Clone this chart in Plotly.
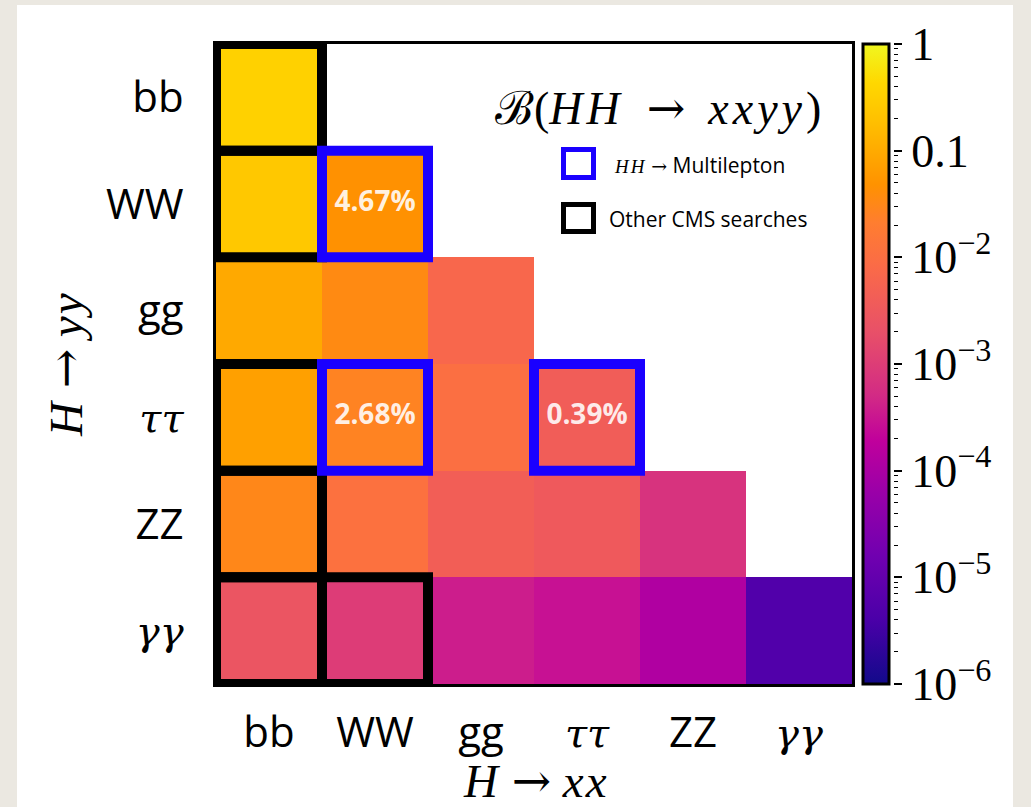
import numpy as np
import plotly.graph_objects as go

# Higgs decay channels, ordered the same way on both axes
channels = ["bb", "WW", "gg", "ττ", "ZZ", "γγ"]

# B(HH -> xx yy): one list per H -> yy row, entries follow the H -> xx columns
br_bb = [0.34]
br_ww = [0.25, 0.0467]
br_gg = [0.095, 0.035, 0.0067]
br_tautau = [0.073, 0.0268, 0.0103, 0.0039]
br_zz = [0.031, 0.0114, 0.0043, 0.0033, 0.0007]
br_gamgam = [0.0026, 0.00098, 0.00037, 0.00028, 0.00012, 0.0000052]

# (xx, yy) cells covered by the multilepton analysis and by other CMS searches
multilepton_cells = [("WW", "WW"), ("WW", "ττ"), ("ττ", "ττ")]
other_cells = [("bb", "bb"), ("bb", "WW"), ("bb", "ττ"), ("bb", "ZZ"),
               ("bb", "γγ"), ("WW", "γγ")]

# colour-bar ticks
cbar_tickvals = [1e-6, 1e-5, 1e-4, 1e-3, 1e-2, 1e-1, 1]
cbar_ticktext = ["10<sup>−6</sup>", "10<sup>−5</sup>", "10<sup>−4</sup>",
                 "10<sup>−3</sup>", "10<sup>−2</sup>", "0.1", "1"]

# vivid plasma-like colour map
colorscale = [
    [0.00, "#120a8a"], [0.10, "#4a00a8"], [0.20, "#7000b0"],
    [0.30, "#9a00a8"], [0.38, "#c0009c"], [0.45, "#d22a85"],
    [0.55, "#e85068"], [0.65, "#fa6a48"], [0.72, "#ff7d30"],
    [0.78, "#ff9200"], [0.88, "#ffc000"], [0.94, "#ffd800"],
    [1.00, "#f0f720"],
]

SERIF = "Liberation Serif"
GREEK = "DejaVu Serif"
SANS = "Open Sans"
ARROW = '<span style="font-family:DejaVu Serif">→</span>'


def math(s, spacing=2):
    return f'<span style="letter-spacing:{spacing}px"><i>{s}</i></span>'


rows = [br_bb, br_ww, br_gg, br_tautau, br_zz, br_gamgam]
n = len(channels)
br = [row + [None] * (n - len(row)) for row in rows]
z = [[np.log10(v) if v is not None else None for v in row] for row in br]

idx = {c: i for i, c in enumerate(channels)}


def label(c):
    if c in ("ττ", "γγ"):
        return f'<span style="font-family:{GREEK};font-size:40px"><i>{c}</i></span>'
    return c


ticktext = [label(c) for c in channels]

fig = go.Figure()
fig.add_trace(go.Heatmap(
    z=z, x=list(range(n)), y=list(range(n)),
    colorscale=colorscale, zmin=-6, zmax=0,
    colorbar=dict(
        x=(863 - 216) / 797, xanchor="left", xpad=0,
        y=0.5, yanchor="middle", len=1, lenmode="fraction", ypad=0,
        thickness=26, outlinewidth=3, outlinecolor="black",
        ticks="", showticklabels=False,
    ),
    hoverongaps=False,
))

# percentage labels on the multilepton cells
ml_x = [idx[xx] for xx, yy in multilepton_cells]
ml_y = [idx[yy] for xx, yy in multilepton_cells]
ml_text = [f"<b>{br[idx[yy]][idx[xx]] * 100:.2f}%</b>" for xx, yy in multilepton_cells]
fig.add_trace(go.Scatter(
    x=ml_x, y=ml_y, mode="text", text=ml_text, textposition="middle center",
    textfont=dict(family=SANS, size=28, color="rgba(255,255,255,0.88)"),
    showlegend=False, hoverinfo="skip",
))

# log axis carrying the colour-bar ticks and labels
fig.add_trace(go.Scatter(x=[None], y=[None], yaxis="y2", showlegend=False,
                         hoverinfo="skip"))

shapes = []
# white page panel
shapes.append(dict(type="rect", xref="paper", yref="paper",
                   x0=(17 - 216) / 797, x1=1.0, y0=-0.25, y1=1 + 39 / 640,
                   fillcolor="white", line=dict(width=0), layer="below"))
for xx, yy in other_cells:
    i, j = idx[xx], idx[yy]
    shapes.append(dict(type="rect", xref="x", yref="y",
                       x0=i - 0.5, x1=i + 0.5, y0=j - 0.5, y1=j + 0.5,
                       line=dict(color="black", width=10)))
for xx, yy in multilepton_cells:
    i, j = idx[xx], idx[yy]
    shapes.append(dict(type="rect", xref="x", yref="y",
                       x0=i - 0.5, x1=i + 0.5, y0=j - 0.5, y1=j + 0.5,
                       line=dict(color="#1a00ff", width=10)))


def px_x(p):
    return (p - 216) / 797


def px_y(p):
    return 1 - (p - 44) / 640


# legend squares
shapes.append(dict(type="rect", xref="paper", yref="paper",
                   x0=px_x(563.5), x1=px_x(593.5), y0=px_y(177.5), y1=px_y(149.5),
                   line=dict(color="#1a00ff", width=5)))
shapes.append(dict(type="rect", xref="paper", yref="paper",
                   x0=px_x(563.5), x1=px_x(593.5), y0=px_y(231.5), y1=px_y(204.5),
                   line=dict(color="black", width=5)))

annotations = [
    dict(xref="paper", yref="paper", x=px_x(658), y=px_y(108),
         text=(f'<span style="font-family:DejaVu Serif">ℬ</span>({math("HH", 4)}'
               f'  {ARROW}  {math("xxyy", 4)})'),
         showarrow=False, font=dict(family=SERIF, size=46, color="black"),
         xanchor="center", yanchor="middle"),
    dict(xref="paper", yref="paper", x=px_x(612), y=px_y(165),
         text=(f'<span style="font-family:{SERIF};font-size:19px">{math("HH", 2)} '
               f'{ARROW}</span> Multilepton'),
         showarrow=False, font=dict(family=SANS, size=21, color="black"),
         xanchor="left", yanchor="middle"),
    dict(xref="paper", yref="paper", x=px_x(607), y=px_y(219),
         text="Other CMS searches",
         showarrow=False, font=dict(family=SANS, size=21, color="black"),
         xanchor="left", yanchor="middle"),
    dict(xref="paper", yref="paper", x=px_x(536), y=px_y(780),
         text=f"{math('H')} {ARROW} {math('xx')}", showarrow=False,
         font=dict(family=SERIF, size=47, color="black"),
         xanchor="center", yanchor="middle"),
    dict(xref="paper", yref="paper", x=px_x(65), y=px_y(364),
         text=f"{math('H')} {ARROW} {math('yy')}", showarrow=False, textangle=-90,
         font=dict(family=SERIF, size=47, color="black"),
         xanchor="center", yanchor="middle"),
]

fig.update_layout(
    width=1031, height=807,
    margin=dict(l=216, r=18, t=44, b=123),
    paper_bgcolor="#ebe8e1", plot_bgcolor="white",
    showlegend=False,
    shapes=shapes, annotations=annotations,
    xaxis=dict(domain=[0, (852 - 216) / 797], range=[-0.5, n - 0.5],
               tickvals=list(range(n)), ticktext=ticktext,
               ticks="outside", ticklen=10, tickcolor="rgba(0,0,0,0)",
               tickfont=dict(family=SANS, size=42, color="black"),
               showgrid=False, zeroline=False,
               showline=True, mirror=True, linecolor="black", linewidth=3),
    yaxis=dict(range=[n - 0.5, -0.5],
               tickvals=list(range(n)), ticktext=ticktext,
               ticks="outside", ticklen=21, tickcolor="rgba(0,0,0,0)",
               tickfont=dict(family=SANS, size=42, color="black"),
               showgrid=False, zeroline=False,
               showline=True, mirror=True, linecolor="black", linewidth=3),
    yaxis2=dict(type="log", range=[-6, 0], overlaying="y", anchor="free",
                position=(893 - 216) / 797, side="right",
                tickvals=cbar_tickvals, ticktext=cbar_ticktext,
                ticks="outside", ticklen=8, tickwidth=1.5, tickcolor="black",
                tickfont=dict(family=SERIF, size=46, color="black"),
                minor=dict(ticks="outside", ticklen=4, tickwidth=1,
                           tickcolor="black", dtick="D1"),
                showgrid=False, zeroline=False, showline=False),
)

fig.write_html("out.html")
